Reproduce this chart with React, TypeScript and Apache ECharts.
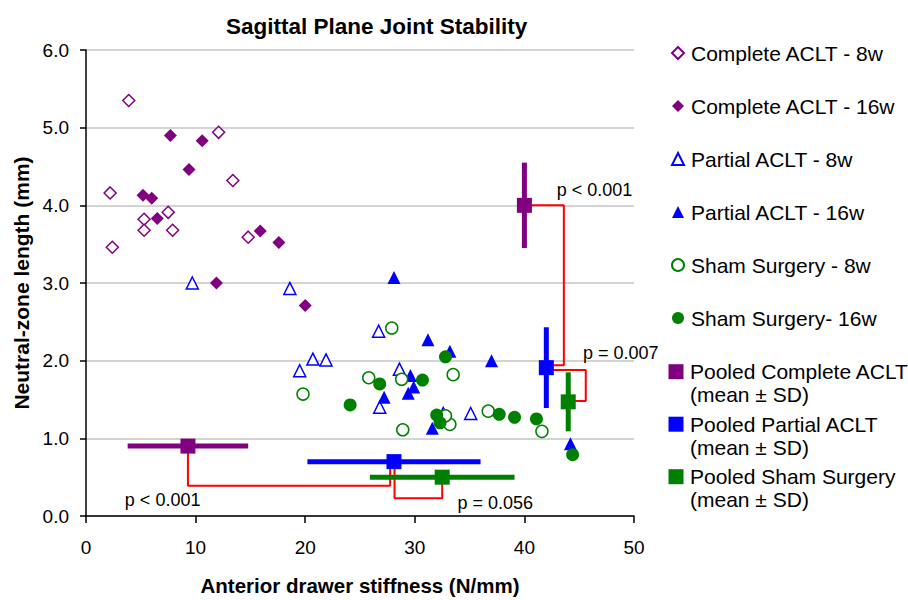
import React, { useEffect, useRef } from 'react';
import * as echarts from 'echarts';

// ---------- data ----------
const completeACLT8w = [
  [3.9, 5.35], [12.1, 4.94], [13.4, 4.32], [2.2, 4.16], [5.3, 3.82],
  [7.5, 3.91], [5.3, 3.68], [7.9, 3.68], [14.8, 3.59], [2.4, 3.46],
];
const completeACLT16w = [
  [7.7, 4.9], [10.6, 4.83], [9.4, 4.46], [5.2, 4.13], [6.0, 4.09],
  [6.5, 3.83], [15.9, 3.67], [17.6, 3.52], [11.9, 3.0], [20.0, 2.71],
];
const partialACLT8w = [
  [9.7, 3.0], [18.6, 2.93], [26.7, 2.38], [20.7, 2.02], [21.9, 2.01],
  [19.5, 1.87], [28.6, 1.89], [26.8, 1.4], [32.6, 1.32], [35.1, 1.32],
];
const partialACLT16w = [
  [28.1, 3.07], [31.2, 2.27], [33.2, 2.12], [29.6, 1.81], [29.9, 1.66],
  [29.4, 1.58], [27.2, 1.53], [31.6, 1.13], [37.0, 2.0], [44.2, 0.93],
];
const shamSurgery8w = [
  [27.9, 2.42], [19.8, 1.57], [25.8, 1.78], [28.8, 1.76], [33.5, 1.82],
  [28.9, 1.11], [33.2, 1.18], [32.8, 1.29], [36.7, 1.35], [41.6, 1.09],
];
const shamSurgery16w = [
  [32.8, 2.05], [30.7, 1.75], [26.8, 1.7], [24.1, 1.43], [32.0, 1.3],
  [32.3, 1.2], [37.7, 1.31], [39.1, 1.27], [41.1, 1.25], [44.4, 0.79],
];

const pooledNames = ['Pooled Complete ACLT', 'Pooled Partial ACLT', 'Pooled Sham Surgery'];
const pooledMeanY = [4.0, 1.91, 1.47];
const pooledSdY = [0.55, 0.52, 0.38];
const pooledPlotX = [40, 42, 44];
const pooledMeanX = [9.3, 28.1, 32.5];
const pooledSdX = [5.5, 7.9, 6.6];
const pooledPlotY = [0.9, 0.7, 0.5];

const brackets = [
  [[40, 4.0], [43.6, 4.0], [43.6, 1.94], [42, 1.94]],
  [[42, 1.88], [45.6, 1.88], [45.6, 1.48], [43.9, 1.48]],
  [[9.3, 0.9], [9.3, 0.39], [27.75, 0.39], [27.75, 0.7]],
  [[28.15, 0.7], [28.15, 0.23], [32.5, 0.23], [32.5, 0.5]],
];
const pAnnotations = [
  [42.9, 4.2, 'p < 0.001'],
  [45.3, 2.1, 'p = 0.007'],
  [3.5, 0.21, 'p < 0.001'],
  [33.85, 0.17, 'p = 0.056'],
];

const scatterNames = [
  'Complete ACLT - 8w',
  'Complete ACLT - 16w',
  'Partial ACLT - 8w',
  'Partial ACLT - 16w',
  'Sham Surgery - 8w',
  'Sham Surgery- 16w',
];

// ---------- styles ----------
const PURPLE = '#800080';
const BLUE = '#0000ff';
const GREEN = '#008000';
const RED = '#ff0000';
const FONT = '"Liberation Sans", Arial, sans-serif';
const groupColors = [PURPLE, BLUE, GREEN];

function openSeries(name: string, data: number[][], symbol: string, color: string, size: number) {
  return {
    type: 'scatter', name, data, symbol, symbolSize: size, z: 3,
    itemStyle: { color: '#ffffff', borderColor: color, borderWidth: 1.5, opacity: 1 },
  };
}
function filledSeries(name: string, data: number[][], symbol: string, color: string, size: number) {
  return {
    type: 'scatter', name, data, symbol, symbolSize: size, z: 3,
    itemStyle: { color, opacity: 1 },
  };
}

export default function App() {
  const ref = useRef<HTMLDivElement>(null);
  useEffect(() => {
    const chart = echarts.init(ref.current!, undefined, { renderer: 'svg' });

    const bracketSeries = brackets.map((pts, i) => ({
      type: 'line', name: 'bracket' + i, data: pts, symbol: 'none', z: 2, silent: true,
      lineStyle: { color: RED, width: 2 },
    }));

    const errorBarSeries = pooledNames.map((n, i) => ({
      type: 'custom', name: n + ' SD', z: 4, silent: true,
      data: [
        [pooledPlotX[i], pooledMeanY[i] - pooledSdY[i], pooledPlotX[i], pooledMeanY[i] + pooledSdY[i]],
        [pooledMeanX[i] - pooledSdX[i], pooledPlotY[i], pooledMeanX[i] + pooledSdX[i], pooledPlotY[i]],
      ],
      encode: { x: [0, 2], y: [1, 3] },
      renderItem: (params: any, api: any) => {
        const p1 = api.coord([api.value(0), api.value(1)]);
        const p2 = api.coord([api.value(2), api.value(3)]);
        return {
          type: 'line',
          shape: { x1: p1[0], y1: p1[1], x2: p2[0], y2: p2[1] },
          style: { stroke: groupColors[i], lineWidth: 5 },
        };
      },
    }));

    const pooledSeries = pooledNames.map((n, i) => ({
      type: 'scatter', name: n, symbol: 'rect', symbolSize: 15, z: 5,
      itemStyle: { color: groupColors[i], opacity: 1 },
      data: [[pooledPlotX[i], pooledMeanY[i]], [pooledMeanX[i], pooledPlotY[i]]],
    }));

    const option: any = {
      animation: false,
      backgroundColor: '#ffffff',
      title: {
        text: 'Sagittal Plane Joint Stability',
        left: 221, top: 10,
        textStyle: { fontFamily: FONT, fontSize: 22.5, fontWeight: 'bold', color: '#000' },
      },
      grid: { left: 86, right: 274, top: 50, bottom: 84, outerBoundsMode: 'none', containLabel: false },
      xAxis: {
        type: 'value', min: 0, max: 50, interval: 10,
        name: 'Anterior drawer stiffness (N/mm)', nameLocation: 'middle', nameGap: 59,
        nameTextStyle: { fontFamily: FONT, fontSize: 20.5, fontWeight: 'bold', color: '#000' },
        axisLine: { show: true, lineStyle: { color: '#000', width: 1.5 } },
        axisTick: { show: true, length: 7, lineStyle: { color: '#000', width: 1.5 } },
        axisLabel: { fontFamily: FONT, fontSize: 19, color: '#000', margin: 22 },
        splitLine: { show: false },
      },
      yAxis: {
        type: 'value', min: 0, max: 6, interval: 1,
        name: 'Neutral-zone length (mm)', nameLocation: 'middle', nameGap: 53,
        nameTextStyle: { fontFamily: FONT, fontSize: 21, fontWeight: 'bold', color: '#000' },
        axisLine: { show: true, lineStyle: { color: '#000', width: 1.5 } },
        axisTick: { show: true, length: 6, lineStyle: { color: '#000', width: 1.5 } },
        axisLabel: {
          fontFamily: FONT, fontSize: 19, color: '#000', margin: 17,
          formatter: (v: number) => v.toFixed(1),
        },
        splitLine: { show: true, lineStyle: { color: '#c6c6c6', width: 1.5 } },
      },
      legend: [
        {
          data: scatterNames, orient: 'vertical', left: 671, top: 40.5, padding: 0,
          itemGap: 28, itemWidth: 12, itemHeight: 12,
          textStyle: { fontFamily: FONT, fontSize: 21, lineHeight: 25, color: '#000', padding: [0, 0, 0, 2] },
          selectedMode: false,
        },
        {
          data: pooledNames, orient: 'vertical', left: 668.5, top: 359.2, padding: 0,
          itemGap: 27.5, itemWidth: 15, itemHeight: 15,
          textStyle: { fontFamily: FONT, fontSize: 21, lineHeight: 25, color: '#000', padding: [0, 0, 0, 1.5] },
          selectedMode: false,
        },
      ],
      graphic: [0, 1, 2].map((i) => ({
        type: 'text', left: 690, top: 384 + i * 52.5,
        style: { text: '(mean ± SD)', font: `21px ${FONT}`, fill: '#000' },
      })),
      series: [
        ...bracketSeries,
        openSeries(scatterNames[0], completeACLT8w, 'diamond', PURPLE, 12),
        filledSeries(scatterNames[1], completeACLT16w, 'diamond', PURPLE, 13),
        openSeries(scatterNames[2], partialACLT8w, 'triangle', BLUE, 12),
        filledSeries(scatterNames[3], partialACLT16w, 'triangle', BLUE, 13),
        openSeries(scatterNames[4], shamSurgery8w, 'circle', GREEN, 12),
        filledSeries(scatterNames[5], shamSurgery16w, 'circle', GREEN, 13),
        ...errorBarSeries,
        ...pooledSeries,
        {
          type: 'scatter', name: 'p-values', data: pAnnotations, symbolSize: 1, z: 6, silent: true,
          itemStyle: { color: '#ffffff', opacity: 1 },
          label: {
            show: true, position: 'right', distance: 0, opacity: 1,
            formatter: (p: any) => p.value[2],
            fontFamily: FONT, fontSize: 18, color: '#000000',
          },
        },
      ],
    };
    chart.setOption(option);
    return () => chart.dispose();
  }, []);
  return (
    <div
      ref={ref}
      style={{ position: 'fixed', left: 0, top: 0, width: 908, height: 600, background: '#fff' }}
    />
  );
}
